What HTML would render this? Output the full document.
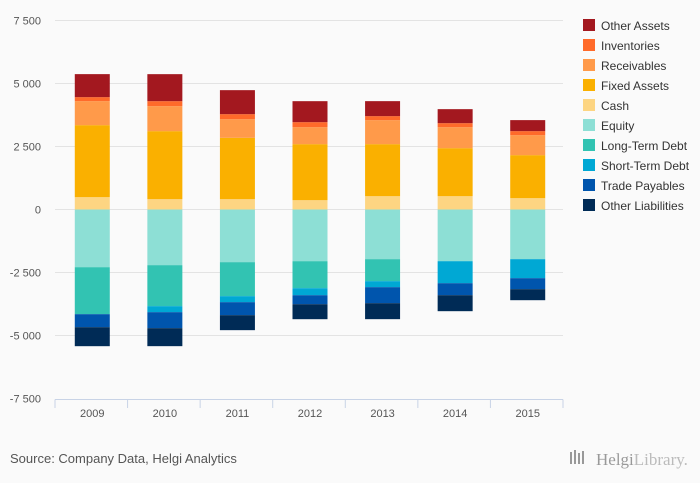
<!DOCTYPE html>
<html><head><meta charset="utf-8"><style>
body{margin:0;background:#fafafa;font-family:"Liberation Sans",sans-serif;}
svg{display:block}
</style></head><body>
<svg id="chart" width="700" height="483">
<rect width="700" height="483" fill="#fafafa"/>
<g id="grid"></g><g id="bars"></g><g id="axis"></g><g id="legend"></g>
<text x="10" y="463" font-size="13" fill="#555">Source: Company Data, Helgi Analytics</text>
<g>
<rect x="570" y="452" width="2" height="12" fill="#999"/><rect x="574" y="450" width="2" height="14" fill="#999"/><rect x="578" y="453" width="2" height="11" fill="#999"/><rect x="582" y="451" width="2" height="13" fill="#999"/>
<text x="596" y="465" font-size="17" fill="#999" font-family="Liberation Serif,serif">Helgi<tspan fill="#bbb">Library.</tspan></text>
</g>
</svg>
<script>
const categories=["2009","2010","2011","2012","2013","2014","2015"];
const seriesNames=["Other Assets","Inventories","Receivables","Fixed Assets","Cash","Equity","Long-Term Debt","Short-Term Debt","Trade Payables","Other Liabilities"];
const cash=[490,410,410,370,529,529,450];
const fixedAssets=[2857,2699,2434,2223,2064,1905,1707];
const receivables=[953,992,741,675,953,833,794];
const inventories=[159,198,198,198,159,159,159];
const otherAssets=[913,1072,953,833,595,556,437];
const equity=[-2289,-2209,-2090,-2051,-1971,-2051,-1971];
const longTermDebt=[-1865,-1627,-1349,-1072,-873,0,0];
const shortTermDebt=[0,-238,-238,-278,-238,-873,-754];
const tradePayables=[-516,-635,-516,-357,-635,-476,-437];
const otherLiabilities=[-754,-714,-595,-595,-635,-635,-437];
const yTicks=[7500,5000,2500,0,-2500,-5000,-7500];
const yTickLabels=["7 500","5 000","2 500","0","-2 500","-5 000","-7 500"];

const NS="http://www.w3.org/2000/svg";
const x0=55,x1=563,yZero=209.5,pxPer=63/2500;
const step=(x1-x0)/categories.length,bw=35;
const y=v=>yZero-v*pxPer;
const xc=i=>x0+step*(i+0.5)+1;
function mk(tag,attrs,parent){const e=document.createElementNS(NS,tag);for(const k in attrs)e.setAttribute(k,attrs[k]);parent.appendChild(e);return e;}
const grid=document.getElementById('grid'),bars=document.getElementById('bars'),axis=document.getElementById('axis'),legend=document.getElementById('legend');
yTicks.forEach((t,i)=>{
 if(t!==-7500){const l=mk('line',{x1:x0,x2:x1,y1:y(t),y2:y(t),stroke:'#e3e3e3','stroke-width':1},grid);
 
 }
 const tx=mk('text',{x:41,y:y(t)+4,'font-size':11,fill:'#555','text-anchor':'end'},axis);
 tx.textContent=yTickLabels[i];
 
 
});
const al=mk('line',{x1:x0,x2:x1,y1:399.5,y2:399.5,stroke:'#c8d3e6'},axis);


for(let i=0;i<=categories.length;i++){
 const tk=mk('line',{x1:x0+step*i,x2:x0+step*i,y1:399.5,y2:408,stroke:'#c8d3e6'},axis);
 
 
}
categories.forEach((c,i)=>{
 const t=mk('text',{x:xc(i),y:417,'font-size':11,fill:'#555','text-anchor':'middle'},axis);
 t.textContent=c;
 
 
});
const pos=[[cash,'#fdd582','cash'],[fixedAssets,'#fab000','fixed-assets'],[receivables,'#ff9a4a','receivables'],[inventories,'#ff6a2a','inventories'],[otherAssets,'#a3181f','other-assets']];
const neg=[[equity,'#8ddfd5','equity'],[longTermDebt,'#32c3b2','long-term-debt'],[shortTermDebt,'#00a8d4','short-term-debt'],[tradePayables,'#0055ad','trade-payables'],[otherLiabilities,'#002b56','other-liabilities']];
categories.forEach((c,i)=>{
 let acc=0;
 pos.forEach(([arr,col,nm])=>{const v=arr[i];const r=mk('rect',{x:xc(i)-bw/2,y:y(acc+v),width:bw,height:Math.max(0,y(acc)-y(acc+v)),fill:col},bars);
 
 acc+=v;});
 acc=0;
 neg.forEach(([arr,col,nm])=>{const v=arr[i];const r=mk('rect',{x:xc(i)-bw/2,y:y(acc),width:bw,height:Math.max(0,y(acc+v)-y(acc)),fill:col},bars);
 
 acc+=v;});
});
const legCols=['#a3181f','#ff6a2a','#ff9a4a','#fab000','#fdd582','#8ddfd5','#32c3b2','#00a8d4','#0055ad','#002b56'];
seriesNames.forEach((n,i)=>{
 const g=mk('g',{},legend);
 
 
 mk('rect',{x:583,y:19+i*20,width:12,height:12,fill:legCols[i]},g);
 const t=mk('text',{x:601,y:30+i*20,'font-size':12,fill:'#333'},g);t.textContent=n;
});
</script>
</body></html>
